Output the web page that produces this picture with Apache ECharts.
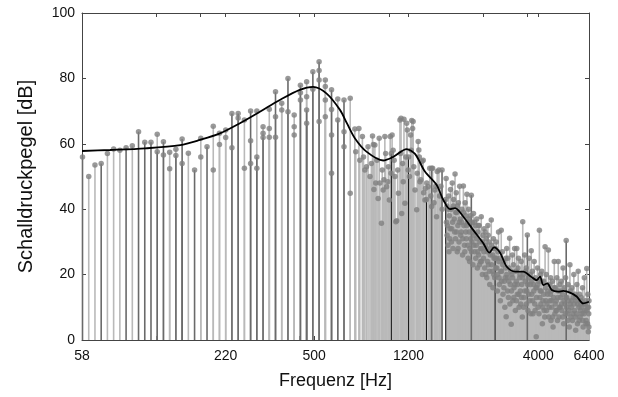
<!DOCTYPE html>
<html>
<head>
<meta charset="utf-8">
<script src="https://cdn.jsdelivr.net/npm/echarts@6/dist/echarts.min.js"></script>
<style>
  html, body { margin: 0; padding: 0; background: #fff; }
  #chart { width: 618px; height: 397px; }
</style>
</head>
<body>
<div id="chart"></div>
<script>
// x axis (Hz, log scale)
const xLabels = [58, 220, 500, 1200, 4000, 6400];
const xTicks = [116, 173, 220, 437, 500, 1000, 1200, 2400, 3600, 4000];
const yMin = 0, yMax = 100, yStep = 20;

// stems [Hz, dB] - light gray
const lightStems = [
  [61.74,50],[65.41,53.5],[73.42,57],[77.78,58.4],[82.41,58],[92.5,59.4],[116.54,62.9],[123.47,56.6],
  [130.81,57.4],[130.81,52.4],[138.59,58.3],[155.56,57.1],[174.61,61.7],[174.61,56],[196,65.4],[196,52],
  [207.65,63.2],[207.65,59.8],[220,64.2],[220,61.9],[233.08,58.8],[246.94,67.9],[261.63,67.3],[261.63,52.5],
  [277.18,60.9],[277.18,54],[293.66,70],[293.66,52.5],[311.13,65.2],[311.13,63.2],[329.63,70.6],[329.63,64.7],
  [329.63,62],[349.23,68.3],[349.23,62],[369.99,72.4],[369.99,70.3],[392,69.8],[415.3,68.8],[415.3,65.2],
  [415.3,62.7],[440,75.6],[440,73.4],[466.16,79],[466.16,74.4],[493.88,76.7],[523.25,82.4],[523.25,79.5],
  [523.25,66.8],[554.37,79.5],[554.37,77.5],[554.37,73.4],[554.37,68.3],[587.33,70.5],[587.33,62.7],[587.33,51],
  [622.25,73.7],[659.26,63.7],[659.26,59.1],[698.46,73.9],[698.46,44.9],
  // 700 - 1650 Hz
  [729,64.5],[735,57.6],[757,64.7],[763,55],[782,62.2],[790,56],[800,52],[812,53],[824,59.1],[839,50],
  [850,54],[859,62.4],[866,59.8],[870,46],[878,59.6],[885,48],[895,55],[905,43.3],[914,61.7],[920,48],
  [933,35.7],[940,52],[948,45.9],[955,49],[963,62.2],[970,57],[979,46.9],[991,48.4],[995,53],[1004,42.8],
  [1012,62.2],[1020,51],[1030,62.7],[1040,58],[1050,55],[1058,50],[1066,36.2],[1075,36.5],[1085,52],[1092,44.9],
  [1108,67.3],[1115,57],[1119,67.8],[1126,38.7],[1135,54],[1142,48.4],[1150,67.5],[1160,41.8],[1170,56],[1179,66.3],
  [1186,64.2],[1195,52],[1210,50],[1223,62.7],[1230,58],[1236,67.1],[1246,64.7],[1252,66.8],[1260,53],[1274,45.9],
  [1294,39.8],[1300,51],[1312,60.7],[1320,58.1],[1326,56],[1333,48.4],[1345,49],[1360,54.7],[1375,55],[1380,45],
  [1397,42.8],[1405,46.4],[1420,48],[1440,46.9],[1460,52.5],[1475,44],[1486,40.8],[1500,52.5],[1520,42],[1531,45.9],
  [1545,47],[1556,37.7],[1565,51.5],[1590,52],[1600,44],[1620,47],[1640,40],
  // 1650 - 6400 Hz
  [1700,49.4],[1712,41],[1720,35],[1730,29],[1741,44],[1752,38],[1760,31],[1771,46],
  [1705,36],[1716,32],[1735,40],[1746,27],[1765,34],
  [1782,40],[1790,34],[1800,48],[1812,28],[1822,43],[1833,37],[1847,50.8],[1855,31],
  [1786,30],[1806,36],[1818,41],[1840,33],[1860,39],
  [1868,45],[1876,39],[1885,27],[1896,35],[1905,42],[1916,30],[1928,47],[1940,37],
  [1872,33],[1890,41],[1900,28],[1922,36],[1946,32],
  [1958,33],[1968,40],[1980,26],[1995,47.1],[2005,35],[2016,29],[2028,42],[2038,38],
  [1962,36],[1985,31],[2000,39],[2022,27],[2042,33],
  [2050,31],[2062,44.6],[2072,36],[2085,25],[2095,40],[2108,33],[2120,28],[2133,38],
  [2056,35],[2078,29],[2100,37],[2114,24],[2138,31],
  [2160,30],[2168,36],[2180,23],[2192,38.7],[2205,32],[2218,27],[2232,35],
  [2152,27],[2174,33],[2198,29],[2212,36],[2238,25],
  [2248,29],[2260,37],[2272,22],[2285,33],[2298,26],[2310,35],[2325,30],[2338,24],
  [2254,31],[2278,27],[2292,35],[2318,23],[2344,28],
  [2355,37.7],[2366,28],[2380,20],[2392,32],[2405,25],[2420,34],[2432,22],[2448,29],
  [2360,24],[2386,30],[2412,27],[2438,33],[2456,20],
  [2466,31],[2480,19],[2492,27],[2505,35],[2518,23],[2532,30],[2548,17],[2562,26],
  [2472,28],[2498,24],[2512,32],[2540,21],[2570,28],
  [2585,36.7],[2596,29],[2610,21],[2625,16],[2638,31],[2652,25],[2668,19],[2688,28],
  [2590,23],[2618,26],[2645,20],[2660,28],[2695,22],
  [2706,30],[2720,22],[2735,15],[2750,27],[2765,33],[2780,19],[2796,25],[2812,12],
  [2712,25],[2742,20],[2772,24],[2788,17],[2822,21],
  [2835,33.6],[2850,21],[2866,27],[2882,14],[2898,24],[2915,18],[2932,10],[2950,22],
  [2842,18],[2874,23],[2906,16],[2940,19],[2958,25],
  [2968,7.1],[2982,28],[2998,19],[3015,25],[3030,13],[3048,22],[3065,31.1],[3085,17],
  [2975,20],[3005,15],[3040,18],[3072,11],[3098,21],
  [3110,4.8],[3125,20],[3142,26],[3158,12],[3175,23],[3192,16],[3210,28],[3232,9],
  [3118,15],[3150,19],[3184,13],[3220,17],[3245,21],
  [3258,18],[3275,28],[3292,14],[3310,22],[3328,25],[3345,10],[3365,19],[3385,15],
  [3266,12],[3300,17],[3336,14],[3372,20],[3398,11],
  [3412,24],[3430,17],[3448,7],[3461,36.2],[3480,20],[3500,13],[3522,26],[3545,18],
  [3420,13],[3455,19],[3490,10],[3530,15],[3560,21],
  [3575,22],[3592,15],[3632,9],[3652,19],[3672,25],[3695,12],[3718,17],
  [3582,11],[3622,17],[3660,14],[3705,20],[3730,8],
  [3745,27.3],[3763,14],[3785,21],[3805,8],[3826,17],[3848,24],[3870,11],[3895,19],
  [3752,18],[3795,12],[3836,15],[3880,9],[3910,16],
  [3922,1],[3945,16],[3968,22],[3990,10],[4012,18],[4039,33.6],[4062,13],[4085,20],
  [3932,13],[3978,17],[4024,8],[4072,15],[4096,11],
  [4108,15],[4130,21],[4152,5],[4175,12],[4198,18],[4222,9],[4258,28.5],[4280,16],
  [4118,18],[4165,10],[4210,14],[4245,7],[4292,12],
  [4305,20],[4330,11],[4355,14],[4390,27.5],[4410,7],[4435,17],[4460,12],[4485,19],
  [4318,9],[4368,15],[4422,10],[4472,14],[4498,6],
  [4508,15],[4532,10],[4558,18],[4585,4],[4610,13],[4638,24],[4665,8],[4692,16],
  [4520,12],[4570,7],[4622,16],[4678,11],[4710,9],
  [4722,12],[4750,19],[4778,6],[4805,15],[4812,24],[4860,10],[4888,17],[4915,13],
  [4736,9],[4790,13],[4845,7],[4900,10],[4932,15],
  [4945,18],[4972,9],[5000,14],[5030,22],[5060,5],[5090,16],[5120,11],[5150,19],
  [4958,11],[5015,7],[5075,12],[5135,8],[5168,13],
  [5210,13],[5240,8],[5270,17],[5300,12],[5330,4],[5362,23],[5395,15],
  [5195,10],[5255,6],[5315,9],[5378,11],[5412,7],
  [5428,10],[5460,16],[5490,6],[5525,13],[5560,20],[5592,9],[5625,14],[5655,3],
  [5445,12],[5508,8],[5575,11],[5640,7],[5670,13],
  [5686,12],[5720,17],[5752,5],[5790,21],[5825,10],[5860,14],[5895,7],[5925,11],
  [5703,8],[5770,11],[5842,6],[5910,9],[5940,12],
  [5955,13],[5990,8],[6025,16],[6062,4],[6095,11],[6130,19],[6165,9],[6200,12],
  [5972,10],[6045,6],[6112,8],[6182,11],[6222,5],
  [6235,6],[6268,21.9],[6300,10],[6330,14],[6360,2.5],[6385,8],[6398,12],
  [6250,9],[6315,5],[6372,10],[6392,4]
];

// stems [Hz, dB] - dark gray
const darkStems = [
  [58.27,56],[69.3,54],[87.31,58.8],[98,63.7],[103.83,60.5],[110,60.5],[116.54,57.6],[123.47,60.6],
  [138.59,56.4],[146.83,61.5],[146.83,54],[164.81,52],[185,59.1],[233.08,69.3],[246.94,69.3],[277.18,70],
  [293.66,56],[311.13,61.9],[349.23,75.9],[392,80],[440,77.9],[466.16,70.3],[466.16,66.3],[493.88,82],
  [523.25,85.1],[587.33,76.5],[622.25,67.3],[659.26,73.4],
  [1486,52.5],[1637,52],[2148,44.3],[3612,32.1],[5180,30.4]
];

// stems [Hz, dB] - black
const blackStems = [[1023,57],[1200,56],[1417,43],[1694,43],[2678,25]];

// smoothed level (black curve)
const curveHz = [58, 75.2, 104.3, 144.3, 173.4, 208.6, 251, 302, 363.4, 437.3, 495, 560, 636, 677, 729, 812, 948,
  1040, 1179, 1274, 1397, 1557, 1657, 1764, 1847, 1995, 2188, 2400, 2539, 2652, 2804, 2985, 3225, 3480, 3704,
  3941, 4064, 4190, 4349, 4530, 4812, 5041, 5364, 5708, 6062, 6396];
const curveDb = [57.8, 58.1, 58.6, 59.6, 61.2, 63.2, 66.3, 69.8, 73.4, 76.5, 77.4, 75.4, 70.3, 66.3, 61.7, 57.6, 54.9,
  56, 58.4, 56.9, 51.5, 47.4, 42.8, 40, 40.3, 37.7, 33.6, 29.6, 26.7, 28.3, 26.7, 22.4, 20.9, 20.9, 19.6,
  18.3, 19.4, 16.8, 17.3, 15.3, 14.8, 15, 14.5, 13.3, 11.2, 11.7];

const FONT = "'Liberation Sans', Arial, sans-serif";
const lg = Math.log10;

function stems(name, data, color, width, z) {
  return {
    name: name,
    type: 'custom',
    z: z,
    silent: true,
    data: data.map(d => [lg(d[0]), d[1]]),
    encode: { x: 0, y: 1 },
    renderItem: function (params, api) {
      const top = api.coord([api.value(0), api.value(1)]);
      const base = api.coord([api.value(0), 0]);
      return {
        type: 'line',
        shape: { x1: top[0], y1: top[1], x2: base[0], y2: base[1] },
        style: { stroke: color, lineWidth: width }
      };
    }
  };
}

const allDots = lightStems.concat(darkStems, blackStems).map(d => [lg(d[0]), d[1]]);

const chart = echarts.init(document.getElementById('chart'), null, { renderer: 'canvas' });

const xCommon = {
  type: 'value',
  min: lg(58),
  max: lg(6400),
  splitLine: { show: false },
  axisLine: { show: true, onZero: false, lineStyle: { color: '#444', width: 1 } }
};
const yCommon = {
  type: 'value',
  min: yMin,
  max: yMax,
  interval: yStep,
  splitLine: { show: false },
  axisLine: { show: true, lineStyle: { color: '#444', width: 1 } },
  axisTick: { show: true, inside: true, length: 4, lineStyle: { color: '#444' } }
};

const option = {
  animation: false,
  backgroundColor: '#fff',
  grid: { left: 82, right: 29, top: 13, bottom: 57 },
  xAxis: [
    Object.assign({}, xCommon, {
      position: 'bottom',
      name: 'Frequenz [Hz]',
      nameLocation: 'middle',
      nameGap: 32,
      nameTextStyle: { fontFamily: FONT, fontSize: 18, color: '#111' },
      axisTick: { show: true, inside: true, length: 4, customValues: xTicks.map(lg), lineStyle: { color: '#444' } },
      axisLabel: {
        customValues: xLabels.map(lg),
        formatter: v => String(Math.round(Math.pow(10, v))),
        fontFamily: FONT, fontSize: 14, color: '#111', margin: 9
      }
    }),
    Object.assign({}, xCommon, {
      position: 'top',
      axisTick: { show: true, inside: true, length: 4, customValues: xTicks.map(lg), lineStyle: { color: '#444' } },
      axisLabel: { show: false }
    })
  ],
  yAxis: [
    Object.assign({}, yCommon, {
      position: 'left',
      name: 'Schalldruckpegel [dB]',
      nameLocation: 'middle',
      nameGap: 46,
      nameTextStyle: { fontFamily: FONT, fontSize: 20, color: '#111' },
      axisLabel: { fontFamily: FONT, fontSize: 14, color: '#111', margin: 7 }
    }),
    Object.assign({}, yCommon, {
      position: 'right',
      axisLabel: { show: false }
    })
  ],
  series: [
    stems('hell', lightStems, '#b9b9b9', 1.6, 1),
    stems('dunkel', darkStems, '#6a6a6a', 1.6, 2),
    stems('schwarz', blackStems, '#111', 1, 3),
    {
      name: 'Punkte',
      type: 'scatter',
      z: 4,
      silent: true,
      data: allDots,
      symbol: 'circle',
      symbolSize: 5.5,
      itemStyle: { color: '#808080' }
    },
    {
      name: 'Mittelwert',
      type: 'line',
      z: 5,
      silent: true,
      data: curveHz.map((f, i) => [lg(f), curveDb[i]]),
      smooth: 0.3,
      showSymbol: false,
      lineStyle: { color: '#000', width: 1.8 }
    }
  ]
};

chart.setOption(option);
</script>
</body>
</html>
